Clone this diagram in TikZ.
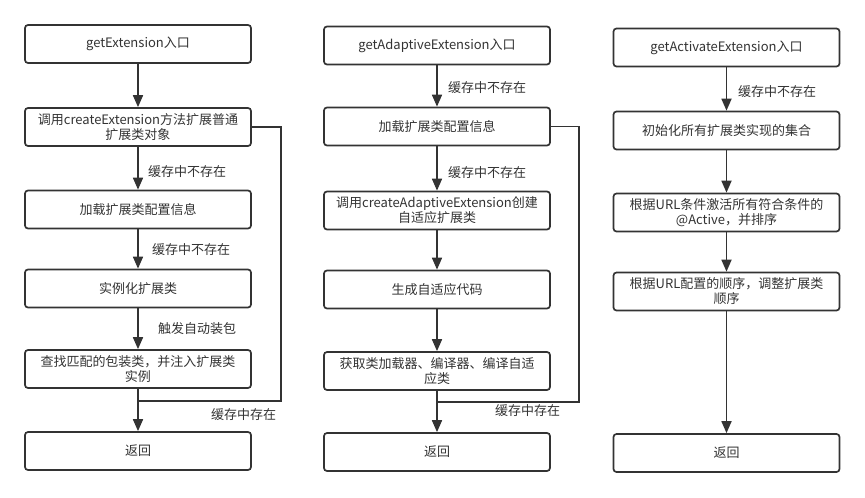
\documentclass[tikz,border=0pt]{standalone}
\usepackage{fontspec}
\setmainfont{Noto Sans CJK SC}
\usetikzlibrary{arrows.meta}
\definecolor{ink}{HTML}{333333}
\begin{document}
\begin{tikzpicture}[x=1pt,y=-1pt,
  box/.style={draw=ink,line width=1.7pt,rounded corners=3pt,minimum width=226pt,minimum height=38pt,inner sep=1pt,align=center,text=ink,font=\fontsize{13}{15}\selectfont},
  arr/.style={draw=ink,line width=1.7pt,-{Triangle[width=10pt,length=12pt]}},
  loop/.style={draw=ink,line width=1.5pt},
  lbl/.style={anchor=west,text=ink,inner sep=0pt,font=\fontsize{13}{15}\selectfont}]
\useasboundingbox (0,0) rectangle (865,498);
% left column
\node[box] (a1) at (138,44) {getExtension入口};
\node[box] (a2) at (138,127) {调用createExtension方法扩展普通\\扩展类对象};
\node[box] (a3) at (138,209.5) {加载扩展类配置信息};
\node[box] (a4) at (138,288.5) {实例化扩展类};
\node[box] (a5) at (138,369) {查找匹配的包装类，并注入扩展类\\实例};
\node[box] (a6) at (138,451) {返回};
\draw[arr] (a1) -- (a2);
\draw[arr] (a2) -- (a3);
\draw[arr] (a3) -- (a4);
\draw[arr] (a4) -- (a5);
\draw[arr] (a5) -- (a6);
\coordinate (ac1) at (281,127);
\coordinate (ac2) at (281,401);
\coordinate (aj) at (138,401);
\draw[loop] (a2.east) -- (ac1) -- (ac2) -- (aj);
\node[lbl] (al1) at (148,172) {缓存中不存在};
\node[lbl] (al2) at (152,250) {缓存中不存在};
\node[lbl] (al3) at (158,329) {触发自动装包};
\node[lbl] (al4) at (211,415) {缓存中存在};
% middle column
\node[box] (b1) at (437,45.5) {getAdaptiveExtension入口};
\node[box] (b2) at (437,126.5) {加载扩展类配置信息};
\node[box] (b3) at (437,210.5) {调用createAdaptiveExtension创建\\自适应扩展类};
\node[box] (b4) at (437,289.5) {生成自适应代码};
\node[box] (b5) at (437,371) {获取类加载器、编译器、编译自适\\应类};
\node[box] (b6) at (437,452) {返回};
\draw[arr] (b1) -- (b2);
\draw[arr] (b2) -- (b3);
\draw[arr] (b3) -- (b4);
\draw[arr] (b4) -- (b5);
\draw[arr] (b5) -- (b6);
\coordinate (bc1) at (579,126.5);
\coordinate (bc2) at (579,402);
\coordinate (bj) at (437,402);
\draw[loop] (b2.east) -- (bc1) -- (bc2) -- (bj);
\node[lbl] (bl1) at (448,88) {缓存中不存在};
\node[lbl] (bl2) at (448,173) {缓存中不存在};
\node[lbl] (bl3) at (495,411) {缓存中存在};
% right column
\node[box] (c1) at (726.5,47.5) {getActivateExtension入口};
\node[box] (c2) at (726.5,130.5) {初始化所有扩展类实现的集合};
\node[box] (c3) at (726.5,212.5) {根据URL条件激活所有符合条件的\\@Active，并排序};
\node[box] (c4) at (726.5,291.5) {根据URL配置的顺序，调整扩展类\\顺序};
\node[box] (c5) at (726.5,453) {返回};
\draw[arr] (c1) -- (c2);
\draw[arr] (c2) -- (c3);
\draw[arr] (c3) -- (c4);
\draw[arr] (c4) -- (c5);
\node[lbl] (cl1) at (738,92) {缓存中不存在};
\end{tikzpicture}
\end{document}
